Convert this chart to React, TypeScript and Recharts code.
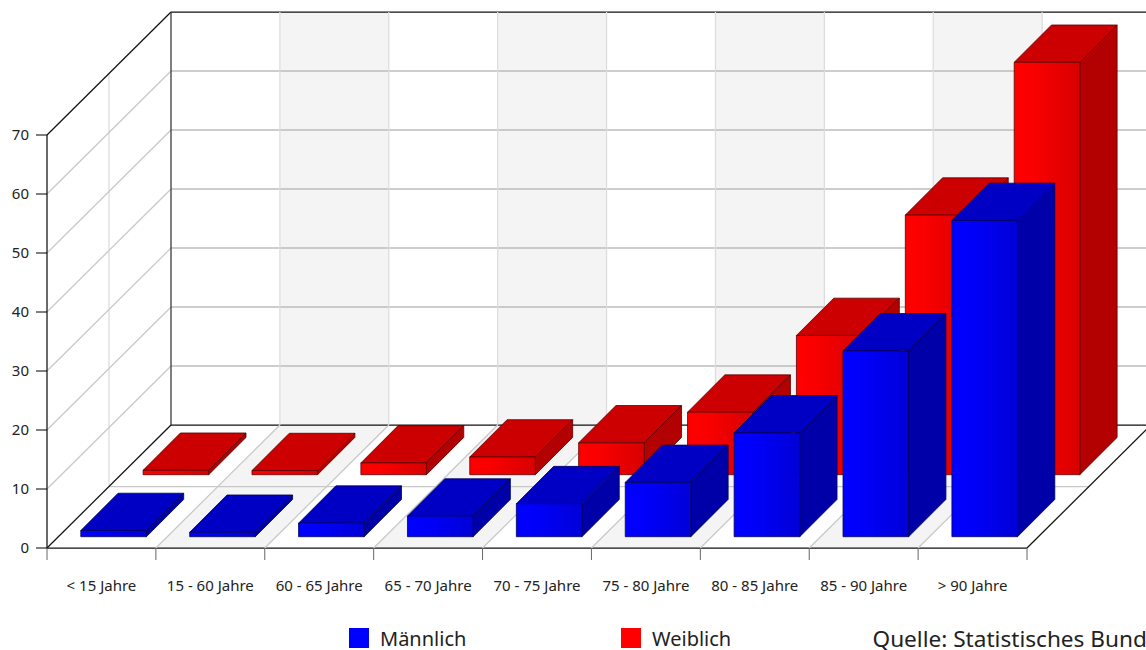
import React from "react";
import { BarChart, Bar, XAxis, YAxis, Legend, CartesianGrid } from "recharts";

const categories = ["< 15 Jahre", "15 - 60 Jahre", "60 - 65 Jahre", "65 - 70 Jahre", "70 - 75 Jahre", "75 - 80 Jahre", "80 - 85 Jahre", "85 - 90 Jahre", "> 90 Jahre"];
const maleValues = [1.05, 0.75, 2.3, 3.5, 5.6, 9.2, 17.6, 31.5, 53.6];
const femaleValues = [0.75, 0.7, 2.0, 3.0, 5.4, 10.6, 23.6, 44.0, 69.9];
const yTicks = [0, 10, 20, 30, 40, 50, 60, 70];
const legendItems = [
  { label: "Männlich", color: "#0000ff", left: 349 },
  { label: "Weiblich", color: "#ff0000", left: 621 },
];
const sourceText = "Quelle: Statistisches Bund";

const data = categories.map((name, i) => ({ name, male: maleValues[i], female: femaleValues[i] }));

const W = 1146, H = 650;
const PLOT_L = 47, PLOT_R = 1027, PLOT_T = 135, PLOT_B = 548;
const DX = 124, DY = -123;
const BAND = (PLOT_R - PLOT_L) / categories.length;
const BAR_W = 65.6, BAR_DEPTH = 37.3;
const FONT = "'Noto Sans', sans-serif";
const TEXT = "#222";
const FRAME = { stroke: "#111", strokeWidth: 1.25 };

const barShape = (grad: string, top: string, side: string, edge: string, shiftX: number, shiftY: number) => (p: any) => {
  const x = p.x + shiftX, y = p.y + shiftY, w = p.width, h = p.height, d = BAR_DEPTH;
  return (
    <g stroke={edge} strokeWidth={0.8} strokeLinejoin="round">
      <polygon points={`${x},${y} ${x + d},${y - d} ${x + w + d},${y - d} ${x + w},${y}`} fill={top} />
      <polygon points={`${x + w},${y} ${x + w + d},${y - d} ${x + w + d},${y + h - d} ${x + w},${y + h}`} fill={side} />
      <rect x={x} y={y} width={w} height={h} fill={`url(#${grad})`} />
    </g>
  );
};

const bandIndex = (cx: number) => {
  const pos = (cx - PLOT_L) / BAND - 0.5;
  const i = Math.round(pos);
  return Math.abs(pos - i) < 0.1 && i >= 0 && i < categories.length ? i : -1;
};

const bandFn = (p: any) => {
  const i = bandIndex(p.x1);
  if (i % 2 !== 1) return <g key={p.key ?? p.x1} />;
  const l = p.x1 - BAND / 2, r = p.x1 + BAND / 2;
  return (
    <g key={p.key ?? i}>
      <polygon points={`${l},${PLOT_B} ${r},${PLOT_B} ${r + DX},${PLOT_B + DY} ${l + DX},${PLOT_B + DY}`} fill="#f4f4f4" />
      <rect x={l + DX} y={PLOT_T + DY} width={BAND} height={PLOT_B - PLOT_T} fill="#f4f4f4" />
    </g>
  );
};

const verticalFn = (p: any) => {
  const i = bandIndex(p.x1);
  const l = p.x1 - BAND / 2, r = p.x1 + BAND / 2;
  const last = i === categories.length - 1;
  return (
    <g key={p.key ?? p.x1}>
      {i > 0 && (
        <>
          <line x1={l} y1={PLOT_B} x2={l + DX} y2={PLOT_B + DY} stroke="#c8c8c8" strokeWidth={1.25} />
          <line x1={l + DX} y1={PLOT_T + DY} x2={l + DX} y2={PLOT_B + DY} stroke="#dcdcdc" strokeWidth={1.25} />
        </>
      )}
      {last && <line x1={r + DX} y1={PLOT_T + DY} x2={r + DX} y2={PLOT_B + DY} stroke="#dcdcdc" strokeWidth={1.25} />}
    </g>
  );
};

const horizontalFn = (p: any) => {
  const y = p.y1;
  const isTop = Math.abs(y - PLOT_T) < 1;
  const isBottom = Math.abs(y - PLOT_B) < 1;
  const bx = PLOT_L + DX, by = y + DY;
  return (
    <g key={p.key ?? y}>
      {!isTop && !isBottom && (
        <>
          <line x1={PLOT_L} y1={y} x2={bx} y2={by} stroke="#c8c8c8" strokeWidth={1.25} />
          <line x1={bx} y1={by} x2={PLOT_R + DX} y2={by} stroke="#bcbcbc" strokeWidth={1.5} />
        </>
      )}
      {isBottom && (
        <>
          <line x1={PLOT_L + DX / 2} y1={PLOT_T + DY / 2} x2={PLOT_L + DX / 2} y2={PLOT_B + DY / 2} stroke="#dcdcdc" strokeWidth={1.25} />
          <line x1={PLOT_L + DX / 2} y1={PLOT_B + DY / 2} x2={PLOT_R + DX / 2} y2={PLOT_B + DY / 2} stroke="#c8c8c8" strokeWidth={1.25} />
          <line x1={PLOT_L} y1={y} x2={bx} y2={by} {...FRAME} />
          <line x1={bx} y1={by} x2={PLOT_R + DX} y2={by} {...FRAME} />
          <line x1={PLOT_R} y1={y} x2={PLOT_R + DX} y2={by} {...FRAME} />
          <line x1={PLOT_L} y1={y} x2={PLOT_R} y2={y} {...FRAME} />
        </>
      )}
      {isTop && (
        <>
          <line x1={PLOT_L} y1={y} x2={bx} y2={by} {...FRAME} />
          <line x1={bx} y1={by} x2={PLOT_R + DX} y2={by} {...FRAME} />
          <line x1={bx} y1={by} x2={bx} y2={PLOT_B + DY} stroke="#333" strokeWidth={1.25} />
          <line x1={PLOT_L} y1={y} x2={PLOT_L} y2={PLOT_B} {...FRAME} />
        </>
      )}
    </g>
  );
};

const XTick = (p: any) => {
  const { x, index } = p;
  const l = x - BAND / 2, r = x + BAND / 2;
  const last = index === categories.length - 1;
  return (
    <g>
      <line x1={l} y1={PLOT_B} x2={l} y2={PLOT_B + 12} stroke="#666" />
      {last && <line x1={r} y1={PLOT_B} x2={r} y2={PLOT_B + 12} stroke="#666" />}
      <text x={x} y={591} textAnchor="middle" fontFamily={FONT} fontSize={15} fill={TEXT}>{p.payload.value}</text>
    </g>
  );
};

const YTick = (p: any) => {
  const { y, payload } = p;
  return (
    <g>
      <line x1={PLOT_L - 11} y1={y} x2={PLOT_L} y2={y} stroke="#000" />
      <text x={PLOT_L - 18} y={y + 5} textAnchor="end" fontFamily={FONT} fontSize={15} fill={TEXT}>{payload.value}</text>
    </g>
  );
};

const LegendBox = () => (
  <div style={{ position: "relative", width: W, height: H, fontFamily: FONT, color: TEXT, whiteSpace: "nowrap", pointerEvents: "none" }}>
    {legendItems.map((it) => (
      <React.Fragment key={it.label}>
        <div style={{ position: "absolute", left: it.left, top: 628, width: 20, height: 20, background: it.color }} />
        <div style={{ position: "absolute", left: it.left + 31, top: 628, fontSize: 20, lineHeight: "21px" }}>{it.label}</div>
      </React.Fragment>
    ))}
    <div style={{ position: "absolute", left: 872.5, top: 627, fontSize: 22.6, lineHeight: "23px" }}>{sourceText}</div>
  </div>
);

export default function App() {
  return (
    <div style={{ position: "absolute", left: 0, top: 0, width: W, height: H, overflow: "hidden", background: "#fff" }}>
      <BarChart
        width={W}
        height={H}
        data={data}
        margin={{ top: PLOT_T, right: W - PLOT_R, bottom: 0, left: 0 }}
        barSize={BAR_W}
        barGap={-BAR_W}
      >
        <defs>
          <linearGradient id="gradRed" x1="0" y1="0" x2="1" y2="0">
            <stop offset="0%" stopColor="#ff0000" />
            <stop offset="30%" stopColor="#fa0000" />
            <stop offset="100%" stopColor="#d80000" />
          </linearGradient>
          <linearGradient id="gradBlue" x1="0" y1="0" x2="1" y2="0">
            <stop offset="0%" stopColor="#0000ff" />
            <stop offset="30%" stopColor="#0000fa" />
            <stop offset="100%" stopColor="#0000d8" />
          </linearGradient>
        </defs>
        <CartesianGrid horizontal={false} vertical={bandFn} />
        <CartesianGrid horizontal={horizontalFn} vertical={verticalFn} />
        <XAxis dataKey="name" interval={0} height={H - PLOT_B} axisLine={false} tickLine={false} tick={XTick} />
        <YAxis width={PLOT_L} domain={[0, 70]} ticks={yTicks} axisLine={false} tickLine={false} tick={YTick} />
        <Legend verticalAlign="middle" content={LegendBox} wrapperStyle={{ position: "absolute", left: 0, top: 0, width: W, height: H }} />
        <Bar dataKey="female" name="Weiblich" isAnimationActive={false} shape={barShape("gradRed", "#cc0000", "#b30000", "#5a0000", 74.1, -73.3)} />
        <Bar dataKey="male" name="Männlich" isAnimationActive={false} shape={barShape("gradBlue", "#0000c4", "#0000a8", "#00005a", 11.8, -11.3)} />
      </BarChart>
    </div>
  );
}
